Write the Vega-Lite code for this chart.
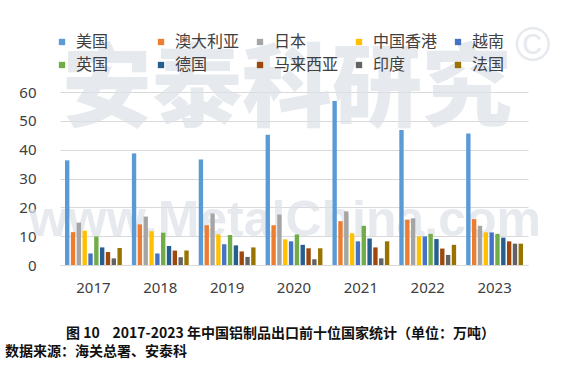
{
  "$schema": "https://vega.github.io/schema/vega-lite/v6.json",
  "width": 468,
  "height": 173,
  "autosize": "none",
  "padding": {"left": 60, "top": 92, "right": 36, "bottom": 107},
  "background": "white",
  "config": {
    "font": "Noto Sans CJK SC",
    "view": {"stroke": null},
    "axisX": {
      "bandPosition": 0.5,
      "labelAngle": 0,
      "labelFontSize": 15,
      "labelFont": "Noto Sans",
      "labelColor": "#404040",
      "labelPadding": 15,
      "ticks": false,
      "domain": true,
      "domainColor": "#d9d9d9",
      "domainWidth": 1,
      "titleFontSize": 14,
      "titleFontWeight": "bold",
      "titleColor": "#111111",
      "titleFont": "Noto Sans CJK SC",
      "titlePadding": 31,
      "titleX": 220,
      "grid": false
    },
    "axisY": {
      "labelOverlap": false,
      "domain": false,
      "ticks": false,
      "grid": true,
      "gridColor": "#d9d9d9",
      "gridWidth": 1,
      "labelFontSize": 15,
      "labelFont": "Noto Sans",
      "labelColor": "#404040",
      "labelPadding": 24
    },
    "legend": {
      "orient": "none",
      "legendX": -6,
      "legendY": -58,
      "padding": 0,
      "direction": "horizontal",
      "columns": 5,
      "gridAlign": "all",
      "columnPadding": 12,
      "rowPadding": 7,
      "symbolType": "square",
      "symbolSize": 40,
      "symbolStrokeWidth": 0,
      "labelFontSize": 16,
      "labelOffset": 6,
      "labelColor": "#404040",
      "labelFont": "Noto Sans CJK SC",
      "labelLimit": 200
    }
  },
  "title": {
    "text": "数据来源：海关总署、安泰科",
    "orient": "bottom",
    "anchor": "start",
    "frame": "group",
    "dx": -55,
    "offset": 5,
    "fontSize": 14,
    "fontWeight": "bold",
    "color": "#111111",
    "font": "Noto Sans CJK SC"
  },
  "datasets": {
    "exports": [
      {"year": "2017", "country": "美国", "value": 36.3},
      {"year": "2017", "country": "澳大利亚", "value": 11.4},
      {"year": "2017", "country": "日本", "value": 14.7},
      {"year": "2017", "country": "中国香港", "value": 11.9},
      {"year": "2017", "country": "越南", "value": 4.0},
      {"year": "2017", "country": "英国", "value": 9.9},
      {"year": "2017", "country": "德国", "value": 6.1},
      {"year": "2017", "country": "马来西亚", "value": 4.5},
      {"year": "2017", "country": "印度", "value": 2.3},
      {"year": "2017", "country": "法国", "value": 5.9},
      {"year": "2018", "country": "美国", "value": 38.7},
      {"year": "2018", "country": "澳大利亚", "value": 14.1},
      {"year": "2018", "country": "日本", "value": 16.8},
      {"year": "2018", "country": "中国香港", "value": 11.7},
      {"year": "2018", "country": "越南", "value": 4.0},
      {"year": "2018", "country": "英国", "value": 11.2},
      {"year": "2018", "country": "德国", "value": 6.6},
      {"year": "2018", "country": "马来西亚", "value": 5.0},
      {"year": "2018", "country": "印度", "value": 2.7},
      {"year": "2018", "country": "法国", "value": 5.0},
      {"year": "2019", "country": "美国", "value": 36.6},
      {"year": "2019", "country": "澳大利亚", "value": 13.8},
      {"year": "2019", "country": "日本", "value": 17.9},
      {"year": "2019", "country": "中国香港", "value": 10.6},
      {"year": "2019", "country": "越南", "value": 7.2},
      {"year": "2019", "country": "英国", "value": 10.4},
      {"year": "2019", "country": "德国", "value": 6.8},
      {"year": "2019", "country": "马来西亚", "value": 4.7},
      {"year": "2019", "country": "印度", "value": 2.8},
      {"year": "2019", "country": "法国", "value": 6.1},
      {"year": "2020", "country": "美国", "value": 45.2},
      {"year": "2020", "country": "澳大利亚", "value": 13.8},
      {"year": "2020", "country": "日本", "value": 17.5},
      {"year": "2020", "country": "中国香港", "value": 8.9},
      {"year": "2020", "country": "越南", "value": 8.2},
      {"year": "2020", "country": "英国", "value": 10.6},
      {"year": "2020", "country": "德国", "value": 7.0},
      {"year": "2020", "country": "马来西亚", "value": 5.8},
      {"year": "2020", "country": "印度", "value": 2.0},
      {"year": "2020", "country": "法国", "value": 5.8},
      {"year": "2021", "country": "美国", "value": 56.9},
      {"year": "2021", "country": "澳大利亚", "value": 15.2},
      {"year": "2021", "country": "日本", "value": 18.6},
      {"year": "2021", "country": "中国香港", "value": 11.0},
      {"year": "2021", "country": "越南", "value": 8.2},
      {"year": "2021", "country": "英国", "value": 13.6},
      {"year": "2021", "country": "德国", "value": 9.2},
      {"year": "2021", "country": "马来西亚", "value": 6.1},
      {"year": "2021", "country": "印度", "value": 2.3},
      {"year": "2021", "country": "法国", "value": 8.2},
      {"year": "2022", "country": "美国", "value": 46.8},
      {"year": "2022", "country": "澳大利亚", "value": 15.7},
      {"year": "2022", "country": "日本", "value": 16.2},
      {"year": "2022", "country": "中国香港", "value": 9.9},
      {"year": "2022", "country": "越南", "value": 9.9},
      {"year": "2022", "country": "英国", "value": 10.8},
      {"year": "2022", "country": "德国", "value": 9.0},
      {"year": "2022", "country": "马来西亚", "value": 5.7},
      {"year": "2022", "country": "印度", "value": 3.5},
      {"year": "2022", "country": "法国", "value": 7.0},
      {"year": "2023", "country": "美国", "value": 45.6},
      {"year": "2023", "country": "澳大利亚", "value": 15.9},
      {"year": "2023", "country": "日本", "value": 13.6},
      {"year": "2023", "country": "中国香港", "value": 11.3},
      {"year": "2023", "country": "越南", "value": 11.3},
      {"year": "2023", "country": "英国", "value": 10.8},
      {"year": "2023", "country": "德国", "value": 9.5},
      {"year": "2023", "country": "马来西亚", "value": 8.2},
      {"year": "2023", "country": "印度", "value": 7.4},
      {"year": "2023", "country": "法国", "value": 7.4}
    ],
    "wm1": [{"t": "安泰科研究"}],
    "wm2": [{"t": "www.MetalChina.com"}],
    "wm3": [{"t": "©"}]
  },
  "layer": [
    {
      "data": {"name": "wm1"},
      "mark": {"type": "text", "fontSize": 90, "fontWeight": 900, "font": "Noto Sans CJK SC", "color": "#dce1e7", "opacity": 0.7, "baseline": "middle", "align": "center", "dx": -7},
      "encoding": {
        "text": {"field": "t"},
        "x": {"datum": "2020", "type": "nominal", "axis": {"title": "图 10\u00a0\u00a0\u00a0\u00a02017-2023 年中国铝制品出口前十位国家统计（单位：万吨）"}},
        "y": {"datum": 60, "type": "quantitative", "axis": {"values": [0, 10, 20, 30, 40, 50, 60], "title": null}}
      }
    },
    {
      "data": {"name": "wm2"},
      "mark": {"type": "text", "fontSize": 50, "fontWeight": "bold", "font": "Liberation Sans", "color": "#dce1e7", "opacity": 0.7, "baseline": "alphabetic", "align": "center", "dx": -9},
      "encoding": {
        "text": {"field": "t"},
        "x": {"datum": "2020", "type": "nominal", "axis": {"title": "图 10\u00a0\u00a0\u00a0\u00a02017-2023 年中国铝制品出口前十位国家统计（单位：万吨）"}},
        "y": {"datum": 10, "type": "quantitative", "axis": {"values": [0, 10, 20, 30, 40, 50, 60], "title": null}}
      }
    },
    {
      "data": {"name": "wm3"},
      "mark": {"type": "text", "fontSize": 48, "font": "Liberation Sans", "color": "#dce1e7", "opacity": 0.7, "baseline": "middle", "align": "center", "dx": 38},
      "encoding": {
        "text": {"field": "t"},
        "x": {"datum": "2023", "type": "nominal", "axis": {"title": "图 10\u00a0\u00a0\u00a0\u00a02017-2023 年中国铝制品出口前十位国家统计（单位：万吨）"}},
        "y": {"datum": 75.7, "type": "quantitative", "axis": {"values": [0, 10, 20, 30, 40, 50, 60], "title": null}}
      }
    },
    {
      "data": {"name": "exports"},
      "mark": {"type": "bar"},
      "encoding": {
        "x": {
          "field": "year",
          "type": "nominal",
          "scale": {"paddingInner": 0.15, "paddingOuter": 0.075},
          "axis": {"title": "图 10\u00a0\u00a0\u00a0\u00a02017-2023 年中国铝制品出口前十位国家统计（单位：万吨）"}
        },
        "xOffset": {
          "field": "country",
          "type": "nominal",
          "sort": ["美国", "澳大利亚", "日本", "中国香港", "越南", "英国", "德国", "马来西亚", "印度", "法国"],
          "scale": {"paddingInner": 0.25, "paddingOuter": 0}
        },
        "y": {
          "field": "value",
          "type": "quantitative",
          "scale": {"domain": [0, 60]},
          "axis": {"values": [0, 10, 20, 30, 40, 50, 60], "title": null}
        },
        "color": {
          "field": "country",
          "type": "nominal",
          "sort": ["美国", "澳大利亚", "日本", "中国香港", "越南", "英国", "德国", "马来西亚", "印度", "法国"],
          "scale": {
            "domain": ["美国", "澳大利亚", "日本", "中国香港", "越南", "英国", "德国", "马来西亚", "印度", "法国"],
            "range": ["#5B9BD5", "#ED7D31", "#A5A5A5", "#FFC000", "#4472C4", "#70AD47", "#255E91", "#9E480E", "#636363", "#997300"]
          },
          "legend": {"title": null}
        }
      }
    }
  ]
}
